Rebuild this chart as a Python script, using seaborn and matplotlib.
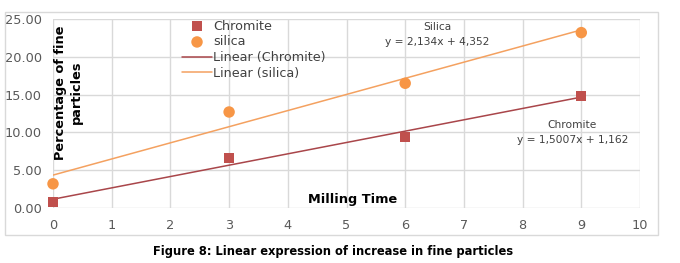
import numpy as np
import pandas as pd
import matplotlib
matplotlib.use('Agg')
import matplotlib.pyplot as plt
import seaborn as sns
from matplotlib.patches import Rectangle

# data
milling_time = [0, 3, 6, 9]
chromite = [0.8, 6.6, 9.4, 14.8]
silica = [3.2, 12.7, 16.5, 23.2]

# trendline coefficients as printed on the chart
chromite_fit = (1.5007, 1.162)
silica_fit = (2.134, 4.352)

x_ticks = list(range(0, 11))
y_ticks = [0, 5, 10, 15, 20, 25]

red = '#C0504D'
orange = '#F79646'
red_line = '#A9464A'
orange_line = '#F4A160'
txt_gray = '#595959'

sns.set_style('white')
plt.rcParams['font.family'] = ['DejaVu Sans']

fig = plt.figure(figsize=(6.8, 2.63), dpi=100)
ax = fig.add_axes([53 / 680, 1 - 208 / 263, 587 / 680, 189 / 263])

# outer chart border
fig.add_artist(Rectangle((5 / 680, 1 - 235 / 263), 653 / 680, 223 / 263,
                         transform=fig.transFigure, fill=False,
                         edgecolor='#d9d9d9', linewidth=1))

df = pd.DataFrame({'time': milling_time, 'Chromite': chromite, 'silica': silica})
xx = np.array([0, 9])
trend = pd.DataFrame({'time': xx,
                      'Linear (Chromite)': chromite_fit[0] * xx + chromite_fit[1],
                      'Linear (silica)': silica_fit[0] * xx + silica_fit[1]})

sns.scatterplot(data=df, x='time', y='Chromite', marker='s', s=55, color=red,
                edgecolor='none', label='Chromite', ax=ax, zorder=4, clip_on=False)
sns.scatterplot(data=df, x='time', y='silica', marker='o', s=68, color=orange,
                edgecolor='none', label='silica', ax=ax, zorder=4, clip_on=False)
sns.lineplot(data=trend, x='time', y='Linear (Chromite)', color=red_line, lw=1.1,
             label='Linear (Chromite)', ax=ax, zorder=3)
sns.lineplot(data=trend, x='time', y='Linear (silica)', color=orange_line, lw=1.1,
             label='Linear (silica)', ax=ax, zorder=3)

ax.set_xlim(0, 10)
ax.set_ylim(0, 25)
ax.set_xticks(x_ticks)
ax.set_yticks(y_ticks)
ax.set_yticklabels(['{:.2f}'.format(v) for v in y_ticks])
ax.grid(True, color='#d9d9d9', linewidth=1)
ax.set_axisbelow(True)
for s in ax.spines.values():
    s.set_visible(False)
ax.tick_params(axis='both', length=0, labelsize=9.3, colors=txt_gray)
ax.tick_params(axis='x', pad=8)
ax.tick_params(axis='y', pad=8)
ax.set_xlabel('')
ax.set_ylabel('')

ax.text(5.1, 1.1, 'Milling Time', fontsize=9.3, fontweight='bold', ha='center',
        va='center', color='black')
ax.text(0.27, 15.3, 'Percentage of fine\nparticles', fontsize=9.3, fontweight='bold',
        rotation=90, ha='center', va='center', color='black', linespacing=1.3)

ax.text(6.55, 23.0, 'Silica\ny = 2,134x + 4,352', fontsize=7.7, ha='center',
        va='center', color='#404040', linespacing=1.6)
ax.text(8.85, 10.0, 'Chromite\ny = 1,5007x + 1,162', fontsize=7.7, ha='center',
        va='center', color='#404040', linespacing=1.6)

leg = ax.legend(loc='upper left', bbox_to_anchor=(182 / 680, 1 - 19.5 / 263),
                bbox_transform=fig.transFigure, frameon=False,
                fontsize=9.2, handlelength=2.35, handletextpad=0.1,
                labelspacing=0.22, borderpad=0, borderaxespad=0)
for t in leg.get_texts():
    t.set_color('#404040')

fig.text(333 / 680, 1 - 252 / 263, 'Figure 8: Linear expression of increase in fine particles',
         fontsize=8.3, fontweight='bold', ha='center', va='center', color='black')

fig.savefig('out.png', dpi=100)
